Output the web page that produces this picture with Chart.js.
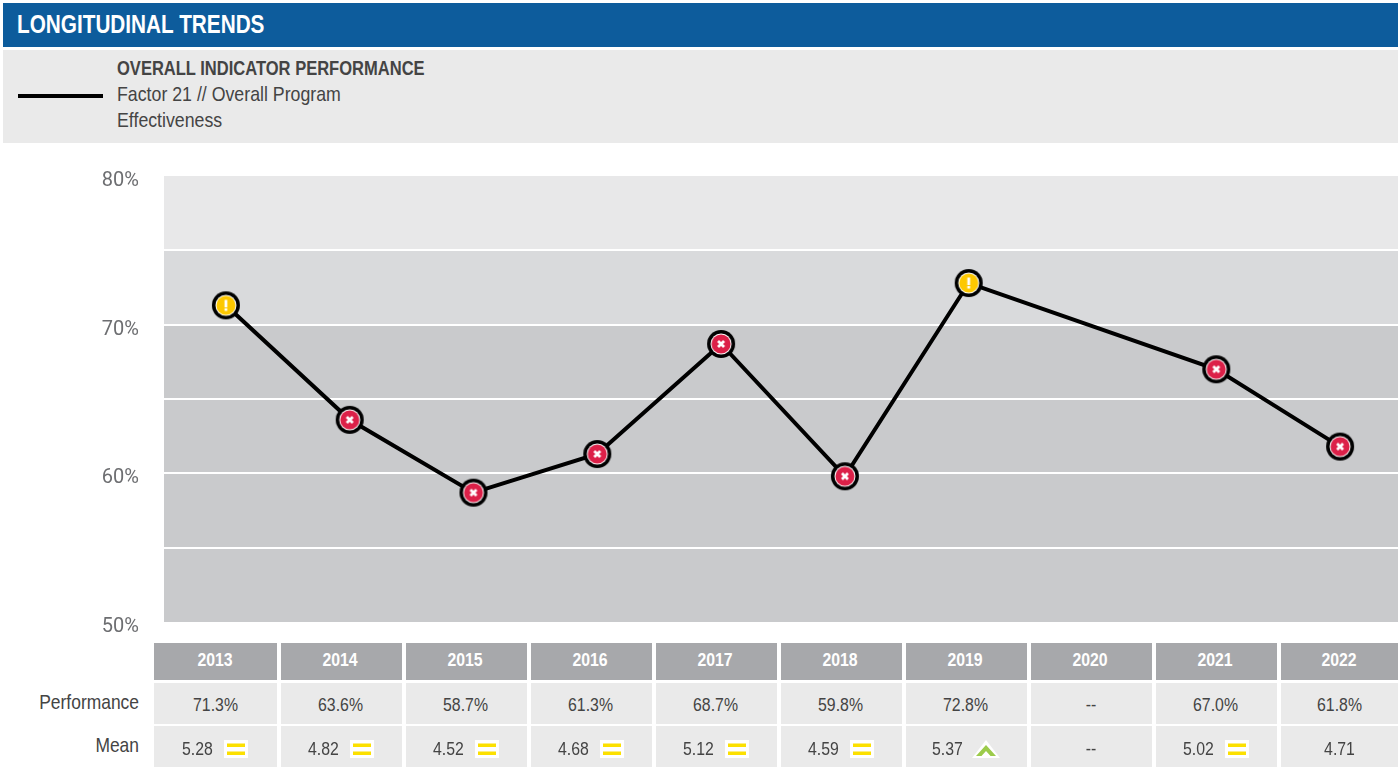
<!DOCTYPE html>
<html>
<head>
<meta charset="utf-8">
<title>Longitudinal Trends</title>
<script src="https://cdn.jsdelivr.net/npm/chart.js@4"></script>
<style>
html, body { margin: 0; padding: 0; background: #fff; overflow: hidden; width: 1398px; height: 767px; }
body { position: relative; font-family: "Liberation Sans", sans-serif; color: #444; }
.abs { position: absolute; }
.nar { display: inline-block; white-space: nowrap; transform-origin: left center; }
#title { left: 3px; top: 3px; width: 1395px; height: 44px; background: #0d5c9c; color: #fff; font-weight: bold; font-size: 25px; line-height: 43px; }
#title .nar { margin-left: 14px; transform: scaleX(.83); }
#subBox { left: 3px; top: 50px; width: 1395px; height: 93px; background: #eaeaea; }
#keyLine { left: 18px; top: 94px; width: 85px; height: 4px; background: #000; }
#keyHead { left: 117px; top: 55px; font-weight: bold; font-size: 21px; line-height: 25px; transform: scaleX(.787); transform-origin: left center; white-space: nowrap; }
#keyText { left: 117px; top: 81px; font-size: 21px; line-height: 25.5px; white-space: nowrap; transform: scaleX(.845); transform-origin: left center; }
#chartBox { left: 0; top: 160px; }
.cell { position: absolute; width: 121px; display: flex; align-items: center; justify-content: center; font-size: 18px; background: #eaeaea; }
.cell span { display: inline-block; white-space: nowrap; transform: scaleX(.88); }
.yearCell { top: 643px; height: 37px; background: #a7a8ab; color: #fff; font-weight: bold; }
.perfCell { top: 683px; height: 41px; padding-top: 4px; }
.meanCell { top: 726px; height: 41px; padding-top: 5px; }
.cell { box-sizing: border-box; }
.yearCell { padding-bottom: 2px; }
.meanCell span.val { width: 31px; transform-origin: left center; }
.rowLabel { position: absolute; left: 0; width: 139px; text-align: right; font-size: 21px; transform: scaleX(.83); transform-origin: right center; }
.icon { margin-left: 11px; display: block; }
</style>
</head>
<body>
<div class="abs" id="title"><span class="nar">LONGITUDINAL TRENDS</span></div>
<div class="abs" id="subBox"></div>
<div class="abs" id="keyLine"></div>
<div class="abs" id="keyHead">OVERALL INDICATOR PERFORMANCE</div>
<div class="abs" id="keyText">Factor 21 // Overall Program<br>Effectiveness</div>
<div class="abs" id="chartBox"><canvas id="myChart" width="1402" height="490"></canvas></div>
<div class="rowLabel" style="top:690px">Performance</div>
<div class="rowLabel" style="top:733px">Mean</div>
<div id="table"></div>

<script>
const years = ["2013", "2014", "2015", "2016", "2017", "2018", "2019", "2020", "2021", "2022"];
const performance = [71.3, 63.6, 58.7, 61.3, 68.7, 59.8, 72.8, null, 67.0, 61.8];
const meanValues = ["5.28", "4.82", "4.52", "4.68", "5.12", "4.59", "5.37", "--", "5.02", "4.71"];
const meanTrend = ["eq", "eq", "eq", "eq", "eq", "eq", "up", "", "eq", ""];
const pointStatus = ["warn", "bad", "bad", "bad", "bad", "bad", "warn", "", "bad", "bad"];
const yTickLabels = [50, 60, 70, 80];
const bandEdges = [80, 75, 70, 50];
const bandColors = ["#e8e8e9", "#d9dadc", "#c9cacc"];

// marker icons, drawn once then handed to chart.js as pointStyle
function makeIcon(status) {
    const c = document.createElement("canvas");
    c.width = 30; c.height = 30;
    const g = c.getContext("2d");
    g.beginPath(); g.arc(15, 15, 14, 0, Math.PI * 2); g.fillStyle = "#000"; g.fill();
    g.beginPath(); g.arc(15, 15, 10.5, 0, Math.PI * 2); g.fillStyle = "#fff"; g.fill();
    g.beginPath(); g.arc(15, 15, 9.5, 0, Math.PI * 2);
    g.fillStyle = status == "warn" ? "#fdc800" : "#dc2048"; g.fill();
    g.strokeStyle = "#fff"; g.fillStyle = "#fff";
    if (status == "warn") {
        g.fillRect(13.6, 9.5, 2.8, 7.5);
        g.fillRect(13.6, 18, 2.8, 2.5);
    } else {
        g.lineWidth = 2.8;
        g.beginPath();
        g.moveTo(12, 12); g.lineTo(18, 18);
        g.moveTo(18, 12); g.lineTo(12, 18);
        g.stroke();
    }
    return c;
}

const bandPlugin = {
    id: "bands",
    beforeDraw(chart) {
        const y = chart.scales.y, a = chart.chartArea, ctx = chart.ctx;
        bandColors.forEach((col, i) => {
            const top = y.getPixelForValue(bandEdges[i]);
            const bot = y.getPixelForValue(bandEdges[i + 1]);
            ctx.fillStyle = col;
            ctx.fillRect(a.left, top, a.right - a.left, bot - top);
        });
    }
};

new Chart(document.getElementById("myChart"), {
    type: "line",
    data: {
        labels: years,
        datasets: [{
            label: "Overall Indicator Performance",
            data: performance,
            borderColor: "#000",
            borderWidth: 4,
            tension: 0,
            spanGaps: true,
            pointStyle: pointStatus.map(s => s ? makeIcon(s) : false)
        }]
    },
    options: {
        responsive: false,
        animation: false,
        layout: { autoPadding: false, padding: { top: 16, bottom: 28 } },
        plugins: { legend: { display: false }, tooltip: { enabled: false } },
        scales: {
            x: { display: false, offset: true },
            y: {
                min: 50, max: 80,
                afterFit(s) { s.width = 164; s.paddingTop = 0; s.paddingBottom = 0; },
                border: { display: false },
                grid: {
                    color: c => (c.tick.value == 50 || c.tick.value == 80) ? "transparent" : "#fff",
                    lineWidth: 2,
                    drawTicks: false
                },
                ticks: {
                    stepSize: 5,
                    padding: 25,
                    labelOffset: 5,
                    color: "#6d6e71",
                    font: { family: "Roboto, sans-serif", size: 20 },
                    callback: v => yTickLabels.includes(v) ? v + "%" : ""
                }
            }
        }
    },
    plugins: [bandPlugin]
});

// table under the plot
const eqIcon = '<svg class="icon" width="24" height="18"><rect width="24" height="18" fill="#fff"/><rect x="3" y="3.5" width="18" height="3.5" fill="#fce000"/><rect x="3" y="11.5" width="18" height="3.5" fill="#fce000"/></svg>';
const upIcon = '<svg class="icon" width="28" height="18" style="margin-left:9px"><path d="M14 0 L28 18 H0 Z" fill="#fff"/><path d="M14 5 L24 16 H18.5 L14 11 L9.5 16 H4 Z" fill="#9ccb4b"/></svg>';
const table = document.getElementById("table");
years.forEach((yr, i) => {
    const left = i == 0 ? 154 : 156 + i * 125;
    const w = i == 0 ? 123 : i == 9 ? 117 : 121;
    // text sits a little left of centre in the middle columns
    const nudge = (i == 0 || i == 9) ? 0 : 2;
    const st = `left:${left}px;width:${w}px;padding-right:${nudge}px`;
    const stMean = `left:${left}px;width:${w}px;padding-right:${i == 0 ? 2 : nudge}px`;
    let perf = performance[i] === null ? "--" : performance[i].toFixed(1) + "%";
    let icon = meanTrend[i] == "eq" ? eqIcon : meanTrend[i] == "up" ? upIcon : "";
    table.innerHTML +=
        `<div class="cell yearCell" style="${st}"><span>${yr}</span></div>` +
        `<div class="cell perfCell" style="${st}"><span>${perf}</span></div>` +
        `<div class="cell meanCell" style="${stMean}"><span class="${icon ? "val" : ""}">${meanValues[i]}</span>${icon}</div>`;
});
</script>
</body>
</html>
